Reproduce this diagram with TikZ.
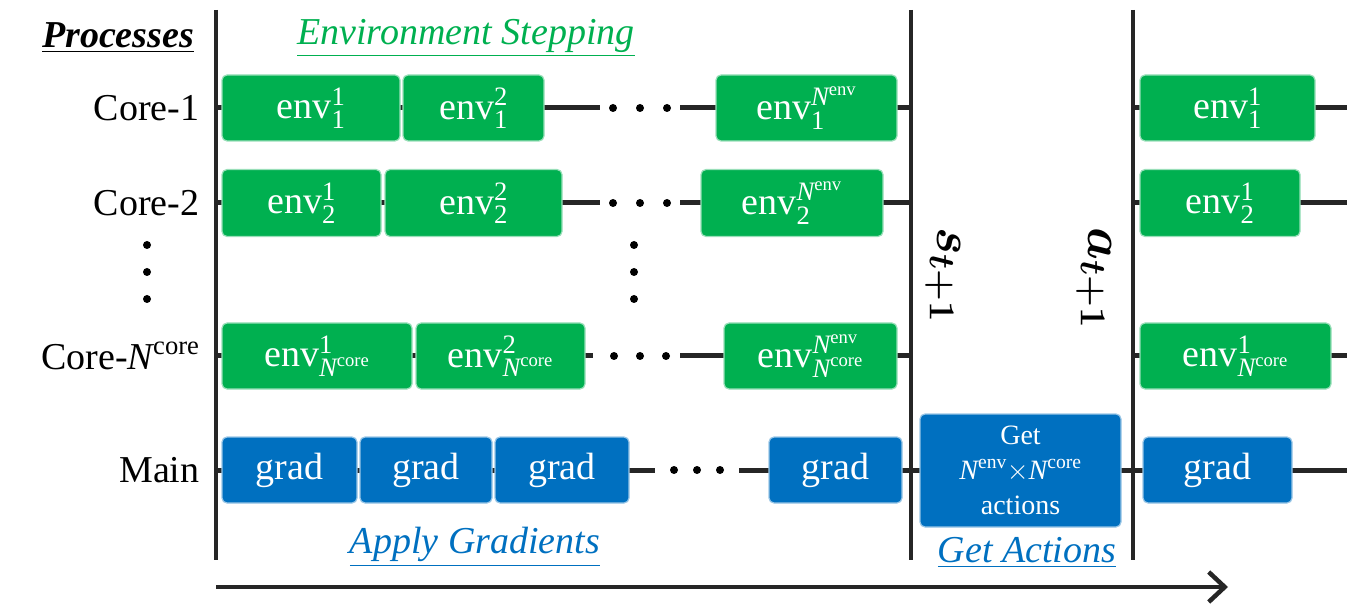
\RequirePackage{fix-cm}
\documentclass[tikz,border=0pt]{standalone}
\usepackage{amsmath}
\usepackage{fontspec}
\setmainfont{Liberation Serif}
\usetikzlibrary{arrows.meta}
\definecolor{envgreen}{HTML}{00B050}
\definecolor{gradblue}{HTML}{0070C0}
\definecolor{linegray}{HTML}{262626}
\newcommand{\ev}[2]{$\text{env}^{\text{#1}}_{\text{#2}}$}
\newcommand{\Nc}{\textit{N}^{\text{core}}}
\newcommand{\Ne}{\textit{N}^{\text{env}}}
\newcommand{\stlab}{$\boldsymbol{s}_{\boldsymbol{t+1}}$}
\newcommand{\atlab}{$\boldsymbol{a}_{\boldsymbol{t+1}}$}
\tikzset{
  box/.style={rounded corners=5pt, inner sep=0pt, text=white, line width=1.2pt,
    font=\fontsize{38}{40}\selectfont},
  gbox/.style={box, fill=envgreen, draw=envgreen!40!white},
  bbox/.style={box, fill=gradblue, draw=gradblue!40!white},
  conn/.style={draw=linegray, line width=5pt},
  vline/.style={draw=linegray, line width=4pt},
  dotn/.style={circle, fill=black, inner sep=0pt, minimum size=8pt},
  rowlab/.style={anchor=east, font=\fontsize{38}{40}\selectfont},
  heading/.style={font=\fontsize{38}{40}\selectfont\itshape},
  sidelab/.style={rotate=-90, font=\fontsize{52}{54}\selectfont}
}
\begin{document}
\begin{tikzpicture}[x=1pt,y=-1pt]
\useasboundingbox (0,0) rectangle (1347,612);
% vertical separators
\coordinate (v1t) at (216,10); \coordinate (v1b) at (216,560);
\coordinate (v2t) at (911,10); \coordinate (v2b) at (911,560);
\coordinate (v3t) at (1133,10); \coordinate (v3b) at (1133,560);
\draw[vline] (v1t) -- (v1b);
\draw[vline] (v2t) -- (v2b);
\draw[vline] (v3t) -- (v3b);
% time arrow
\coordinate (ts) at (216,587); \coordinate (te) at (1228,587);
\draw[vline, line width=4.5pt, -{Straight Barb[length=16pt,width=30pt]}] (ts) -- (te);
% headings
\node[heading] (proc) at (118,38) {\underline{\textbf{Processes}}};
\node[heading, text=envgreen] (envst) at (466,38) {\underline{Environment Stepping}};
\node[heading, text=gradblue] (applyg) at (475,547) {\underline{Apply Gradients}};
\node[heading, text=gradblue] (getact) at (1027,553) {\underline{Get Actions}};
% row labels
\node[rowlab] (l1) at (203,108) {Core-1};
\node[rowlab] (l2) at (203,203) {Core-2};
\node[rowlab] (lN) at (203,356) {Core-$\Nc$};
\node[rowlab] (lM) at (203,470) {Main};
\node[dotn] (vd1) at (147,245) {};
\node[dotn] (vd2) at (147,272) {};
\node[dotn] (vd3) at (147,299) {};
\node[dotn] (md1) at (634,245) {};
\node[dotn] (md2) at (634,272) {};
\node[dotn] (md3) at (634,299) {};
% ---------- Core-1 ----------
\coordinate (c1dl) at (600,108); \coordinate (c1dr) at (680,108); \coordinate (c1end) at (1347,108);
\draw[conn] (c1dl -| v1t) -- (c1dl);
\draw[conn] (c1dr) -- (c1dr -| v2t);
\draw[conn] (c1dr -| v3t) -- (c1end);
\node[gbox, minimum width=178pt, minimum height=66pt] (c1a) at (311,108) {\ev{1}{1}};
\node[gbox, minimum width=141pt, minimum height=66pt] (c1b) at (473.5,108) {\ev{2}{1}};
\node[gbox, minimum width=181pt, minimum height=66pt] (c1n) at (806.5,108) {\ev{$\Ne$}{1}};
\node[gbox, minimum width=175pt, minimum height=66pt] (c1r) at (1227.5,108) {\ev{1}{1}};
\node[dotn] (c1x) at (613,108) {};
\node[dotn] (c1y) at (640,108) {};
\node[dotn] (c1z) at (667,108) {};
% ---------- Core-2 ----------
\coordinate (c2dl) at (600,203); \coordinate (c2dr) at (680,203); \coordinate (c2end) at (1347,203);
\draw[conn] (c2dl -| v1t) -- (c2dl);
\draw[conn] (c2dr) -- (c2dr -| v2t);
\draw[conn] (c2dr -| v3t) -- (c2end);
\node[gbox, minimum width=159pt, minimum height=67pt] (c2a) at (301.5,203) {\ev{1}{2}};
\node[gbox, minimum width=177pt, minimum height=67pt] (c2b) at (473.5,203) {\ev{2}{2}};
\node[gbox, minimum width=182pt, minimum height=67pt] (c2n) at (792,203) {\ev{$\Ne$}{2}};
\node[gbox, minimum width=160pt, minimum height=67pt] (c2r) at (1220,203) {\ev{1}{2}};
\node[dotn] (c2x) at (613,203) {};
\node[dotn] (c2y) at (640,203) {};
\node[dotn] (c2z) at (667,203) {};
% ---------- Core-N ----------
\coordinate (cNdl) at (593,356); \coordinate (cNdr) at (680,356); \coordinate (cNend) at (1347,356);
\draw[conn] (cNdl -| v1t) -- (cNdl);
\draw[conn] (cNdr) -- (cNdr -| v2t);
\draw[conn] (cNdr -| v3t) -- (cNend);
\node[gbox, minimum width=190pt, minimum height=66pt] (cNa) at (317,356) {\ev{1}{$\Nc$}};
\node[gbox, minimum width=169pt, minimum height=66pt] (cNb) at (500.5,356) {\ev{2}{$\Nc$}};
\node[gbox, minimum width=173pt, minimum height=66pt] (cNn) at (810.5,356) {\ev{$\Ne$}{$\Nc$}};
\node[gbox, minimum width=191pt, minimum height=66pt] (cNr) at (1235.5,356) {\ev{1}{$\Nc$}};
\node[dotn] (cNx) at (614,356) {};
\node[dotn] (cNy) at (640,356) {};
\node[dotn] (cNz) at (666,356) {};
% ---------- Main ----------
\coordinate (mdl) at (655,470); \coordinate (mdr) at (739,470); \coordinate (mend) at (1347,470);
\draw[conn] (mdl -| v1t) -- (mdl);
\draw[conn] (mdr) -- (mend);
\node[bbox, minimum width=135pt, minimum height=66pt] (ma) at (289.5,470) {grad};
\node[bbox, minimum width=132pt, minimum height=66pt] (mb) at (426,470) {grad};
\node[bbox, minimum width=134pt, minimum height=66pt] (mc) at (562,470) {grad};
\node[bbox, minimum width=133pt, minimum height=66pt] (mn) at (835.5,470) {grad};
\node[bbox, minimum width=201pt, minimum height=113pt, align=center,
  font=\fontsize{28}{35}\selectfont] (get) at (1020.5,470.5)
  {Get\\$\Ne{\times}\Nc$\\actions};
\node[bbox, minimum width=149pt, minimum height=66pt] (mr) at (1217.5,470) {grad};
\node[dotn] (mx) at (674,470) {};
\node[dotn] (my) at (697,470) {};
\node[dotn] (mz) at (720,470) {};
% side labels
\node[sidelab] (slab) at (943,275) {\stlab};
\node[sidelab] (alab) at (1094,278) {\atlab};
\end{tikzpicture}
\end{document}
